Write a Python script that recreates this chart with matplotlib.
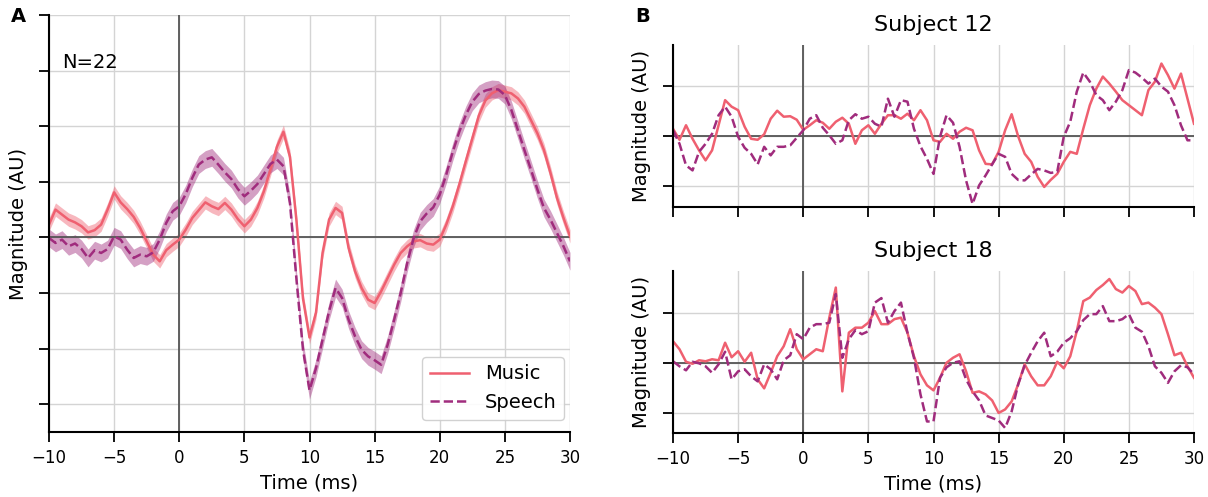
import numpy as np
import matplotlib
matplotlib.use("Agg")
import matplotlib.pyplot as plt

# ---------------- data ----------------
time_ms = np.arange(-10, 30.01, 0.5)
x_ticks = [-10, -5, 0, 5, 10, 15, 20, 25, 30]

# Panel A: grand average (N=22)
music_avg = [0.23, 0.50, 0.41, 0.32, 0.27, 0.20, 0.09, 0.13, 0.23, 0.50,
             0.81, 0.63, 0.51, 0.37, 0.17, -0.07, -0.31, -0.43, -0.23, -0.13,
             -0.04, 0.14, 0.35, 0.49, 0.63, 0.56, 0.51, 0.62, 0.50, 0.33,
             0.20, 0.32, 0.53, 0.83, 1.22, 1.63, 1.90, 1.45, 0.30, -1.10,
             -1.80, -1.35, -0.28, 0.32, 0.53, 0.44, -0.19, -0.61, -0.91, -1.12,
             -1.18, -0.97, -0.73, -0.49, -0.28, -0.16, -0.07, -0.05, -0.11, -0.13,
             -0.04, 0.23, 0.56, 0.95, 1.37, 1.78, 2.19, 2.46, 2.59, 2.65,
             2.62, 2.59, 2.50, 2.35, 2.11, 1.87, 1.57, 1.16, 0.71, 0.35,
             0.02]
speech_avg = [-0.01, -0.10, -0.04, -0.16, -0.11, -0.21, -0.37, -0.23, -0.28, -0.21,
              0.02, -0.04, -0.22, -0.37, -0.31, -0.34, -0.27, -0.04, 0.26, 0.47,
              0.56, 0.78, 1.07, 1.31, 1.40, 1.44, 1.31, 1.17, 1.05, 0.87,
              0.74, 0.84, 0.96, 1.14, 1.32, 1.40, 1.28, 0.62, -0.76, -2.02,
              -2.75, -2.35, -1.84, -1.33, -0.91, -1.09, -1.48, -1.78, -2.02, -2.14,
              -2.21, -2.29, -1.93, -1.48, -1.00, -0.46, -0.01, 0.29, 0.43, 0.54,
              0.77, 1.13, 1.54, 1.90, 2.20, 2.44, 2.58, 2.64, 2.67, 2.66,
              2.56, 2.29, 1.93, 1.57, 1.22, 0.86, 0.53, 0.32, 0.08, -0.16,
              -0.43]
music_sem = 0.12
speech_sem = 0.16

# Panel B: single subjects
s12_music = [0.15, -0.07, 0.22, -0.05, -0.28, -0.48, -0.28, 0.22, 0.72, 0.59,
             0.52, 0.19, -0.05, -0.07, 0.04, 0.35, 0.51, 0.39, 0.40, 0.33,
             0.13, 0.22, 0.32, 0.27, 0.15, 0.29, 0.37, 0.25, -0.15, 0.12,
             0.22, 0.05, 0.25, 0.42, 0.42, 0.35, 0.45, 0.32, 0.52, 0.32,
             -0.08, -0.11, 0.05, -0.05, 0.09, 0.17, 0.12, -0.28, -0.55, -0.56,
             -0.31, 0.12, 0.44, 0.00, -0.35, -0.51, -0.81, -1.01, -0.87, -0.75,
             -0.51, -0.31, -0.35, 0.15, 0.62, 0.95, 1.19, 1.05, 0.89, 0.72,
             0.62, 0.52, 0.42, 0.92, 1.09, 1.45, 1.22, 0.95, 1.25, 0.75,
             0.25]
s12_speech = [0.12, -0.15, -0.58, -0.68, -0.31, -0.15, 0.05, 0.42, 0.59, 0.39,
              -0.01, -0.23, -0.35, -0.56, -0.21, -0.38, -0.21, -0.21, -0.18, -0.03,
              0.12, 0.35, 0.42, 0.17, 0.02, -0.15, -0.08, 0.32, 0.44, 0.35,
              0.39, 0.25, 0.19, 0.75, 0.39, 0.72, 0.69, 0.15, -0.20, -0.45,
              -0.75, -0.01, 0.42, 0.27, -0.21, -0.88, -1.35, -0.98, -0.78, -0.56,
              -0.35, -0.41, -0.75, -0.87, -0.88, -0.76, -0.65, -0.68, -0.73, -0.71,
              -0.01, 0.29, 0.89, 1.27, 1.09, 0.82, 0.72, 0.52, 0.69, 0.92,
              1.32, 1.27, 1.17, 1.05, 1.15, 0.99, 0.89, 0.62, 0.22, -0.08,
              -0.08]
s18_music = [0.43, 0.27, 0.02, -0.02, 0.05, 0.03, 0.07, 0.05, 0.40, 0.11,
             0.23, 0.02, 0.20, -0.33, -0.51, -0.20, 0.13, 0.33, 0.67, 0.27,
             0.07, 0.17, 0.27, 0.23, 0.90, 1.50, -0.57, 0.60, 0.70, 0.70,
             0.80, 1.03, 0.77, 0.77, 0.87, 0.90, 0.60, 0.13, -0.23, -0.45,
             -0.55, -0.30, 0.00, 0.10, 0.17, -0.17, -0.60, -0.57, -0.63, -0.75,
             -1.00, -0.93, -0.77, -0.43, -0.03, -0.27, -0.45, -0.45, -0.27, 0.02,
             -0.11, 0.13, 0.63, 1.23, 1.30, 1.45, 1.55, 1.67, 1.47, 1.40,
             1.53, 1.43, 1.17, 1.20, 1.10, 0.97, 0.57, 0.15, 0.20, -0.07,
             -0.30]
s18_speech = [0.03, -0.07, -0.15, 0.02, -0.01, -0.07, -0.20, -0.03, 0.22, -0.33,
              -0.17, -0.13, -0.27, -0.37, -0.03, -0.13, -0.33, 0.05, 0.15, 0.57,
              0.47, 0.70, 0.77, 0.77, 0.80, 1.37, 0.10, 0.47, 0.65, 0.57,
              0.63, 1.20, 1.29, 0.80, 1.03, 1.20, 0.60, 0.10, -0.63, -1.17,
              -1.17, -0.30, -0.09, 0.00, 0.03, -0.33, -0.57, -0.75, -1.05, -1.10,
              -1.15, -1.30, -0.97, -0.43, -0.05, 0.20, 0.43, 0.60, 0.13, 0.22,
              0.40, 0.49, 0.63, 0.85, 0.97, 0.97, 1.13, 0.83, 0.83, 0.87,
              0.97, 0.70, 0.62, 0.33, -0.07, -0.20, -0.40, -0.17, -0.05, -0.09,
              -0.23]

labels = ["Music", "Speech"]
MUSIC_C = "#ef6070"
SPEECH_C = "#a02c7d"

# ---------------- figure ----------------
W, H = 1208, 497
fig = plt.figure(figsize=(W / 100, H / 100), dpi=100)
FS = 14
TICK_FS = 12

def style_axes(ax, ylim, yticks, show_xlabels=True):
    ax.set_xlim(-10, 30)
    ax.set_ylim(*ylim)
    ax.set_xticks(x_ticks)
    ax.set_yticks(yticks)
    ax.set_yticklabels([])
    if not show_xlabels:
        ax.set_xticklabels([])
    ax.grid(True, color="#d4d4d4", lw=1.0)
    ax.set_axisbelow(True)
    for s in ["top", "right"]:
        ax.spines[s].set_visible(False)
    for s in ["left", "bottom"]:
        ax.spines[s].set_linewidth(1.5)
    ax.tick_params(axis="both", length=7, width=1.3, labelsize=TICK_FS, pad=5)
    ax.axhline(0, color="#555555", lw=1.3, zorder=1.5)
    ax.axvline(0, color="#555555", lw=1.3, zorder=1.5)

# Panel A
axA = fig.add_axes([49 / W, 1 - 432 / H, 521 / W, 417 / H])
style_axes(axA, (-3.5, 4.0), list(range(-3, 5)))
m = np.array(music_avg)
s = np.array(speech_avg)
axA.fill_between(time_ms, m - music_sem, m + music_sem, color=MUSIC_C, alpha=0.45, lw=0)
axA.fill_between(time_ms, s - speech_sem, s + speech_sem, color=SPEECH_C, alpha=0.45, lw=0)
axA.plot(time_ms, m, color=MUSIC_C, lw=1.8, label=labels[0])
axA.plot(time_ms, s, color=SPEECH_C, lw=1.8, ls="--", label=labels[1])
axA.set_xlabel("Time (ms)", fontsize=FS, labelpad=5)
axA.set_ylabel("Magnitude (AU)", fontsize=FS)
axA.yaxis.set_label_coords(-0.04, 0.5)
axA.text(0.025, 0.887, "N=22", transform=axA.transAxes, fontsize=FS, va="center", ha="left")
axA.legend(loc="lower right", bbox_to_anchor=(1.0, 0.015), fontsize=FS, framealpha=0.9,
           edgecolor="#cccccc", borderaxespad=0.3, handlelength=2.0)
fig.text(18 / W, 1 - 17 / H, "A", fontsize=14, fontweight="bold", ha="center", va="center")

# Panel B1
axB1 = fig.add_axes([673 / W, 1 - 207 / H, 521 / W, 162 / H])
style_axes(axB1, (-1.41, 1.82), [-1, 0, 1], show_xlabels=False)
axB1.plot(time_ms, s12_music, color=MUSIC_C, lw=1.8)
axB1.plot(time_ms, s12_speech, color=SPEECH_C, lw=1.8, ls="--")
axB1.set_title("Subject 12", fontsize=16, pad=10)
axB1.set_ylabel("Magnitude (AU)", fontsize=FS)
axB1.yaxis.set_label_coords(-0.042, 0.5)
fig.text(643 / W, 1 - 17 / H, "B", fontsize=14, fontweight="bold", ha="center", va="center")

# Panel B2
axB2 = fig.add_axes([673 / W, 1 - 433 / H, 521 / W, 162 / H])
style_axes(axB2, (-1.4, 1.83), [-1, 0, 1])
axB2.plot(time_ms, s18_music, color=MUSIC_C, lw=1.8)
axB2.plot(time_ms, s18_speech, color=SPEECH_C, lw=1.8, ls="--")
axB2.set_title("Subject 18", fontsize=16, pad=10)
axB2.set_ylabel("Magnitude (AU)", fontsize=FS)
axB2.yaxis.set_label_coords(-0.042, 0.5)
axB2.set_xlabel("Time (ms)", fontsize=FS, labelpad=5)

fig.savefig("out.png", dpi=100)
